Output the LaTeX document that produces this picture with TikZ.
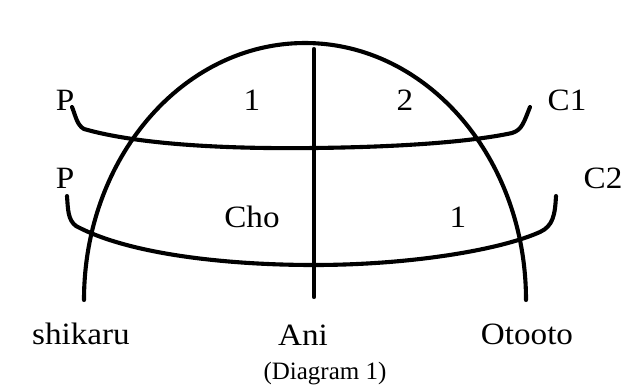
\documentclass[tikz,border=0pt]{standalone}
\usepackage{fontspec}
\setmainfont{Liberation Serif}
\newcommand{\wide}[1]{\scalebox{1.07}[1]{#1}}
\begin{document}
\begin{tikzpicture}[x=1pt,y=1pt,
  stroke/.style={line width=4.1pt,line cap=round,line join=round},
  lbl/.style={anchor=base,inner sep=0pt,font=\fontsize{31}{36}\selectfont},
  captext/.style={anchor=base,inner sep=0pt,font=\fontsize{25}{30}\selectfont}]
\useasboundingbox (0,0) rectangle (627,-386);
% dome
\draw[stroke] (84,-300) arc[start angle=180,end angle=0,x radius=221,y radius=257];
% vertical line
\draw[stroke] (314,-49) -- (314,-297);
% upper curve
\draw[stroke] (72,-107) .. controls (76,-117) and (77,-125) .. (84,-129)
  .. controls (140,-145) and (230,-149) .. (314,-148)
  .. controls (400,-147) and (470,-142) .. (512,-133)
  .. controls (522,-130) and (524,-122) .. (530,-107);
% lower curve
\draw[stroke] (67,-196) .. controls (68,-210) and (68,-220) .. (76,-226)
  .. controls (130,-255) and (230,-265) .. (314,-265)
  .. controls (410,-265) and (500,-250) .. (540,-232)
  .. controls (553,-226) and (555,-215) .. (556,-196);
% labels
\node[lbl] (p1) at (65,-110) {\wide{P}};
\node[lbl] (n1) at (252,-110) {\wide{1}};
\node[lbl] (n2) at (405,-110) {\wide{2}};
\node[lbl] (c1) at (567,-110) {\wide{C1}};
\node[lbl] (p2) at (65,-188) {\wide{P}};
\node[lbl] (c2) at (603,-188) {\wide{C2}};
\node[lbl] (cho) at (252,-227) {\wide{Cho}};
\node[lbl] (n3) at (458,-227) {\wide{1}};
\node[lbl] (shi) at (81,-344) {\wide{shikaru}};
\node[lbl] (ani) at (303,-345) {\wide{Ani}};
\node[lbl] (oto) at (527,-344) {\wide{Otooto}};
\node[captext] (dg) at (325,-379) {(Diagram 1)};
\end{tikzpicture}
\end{document}
